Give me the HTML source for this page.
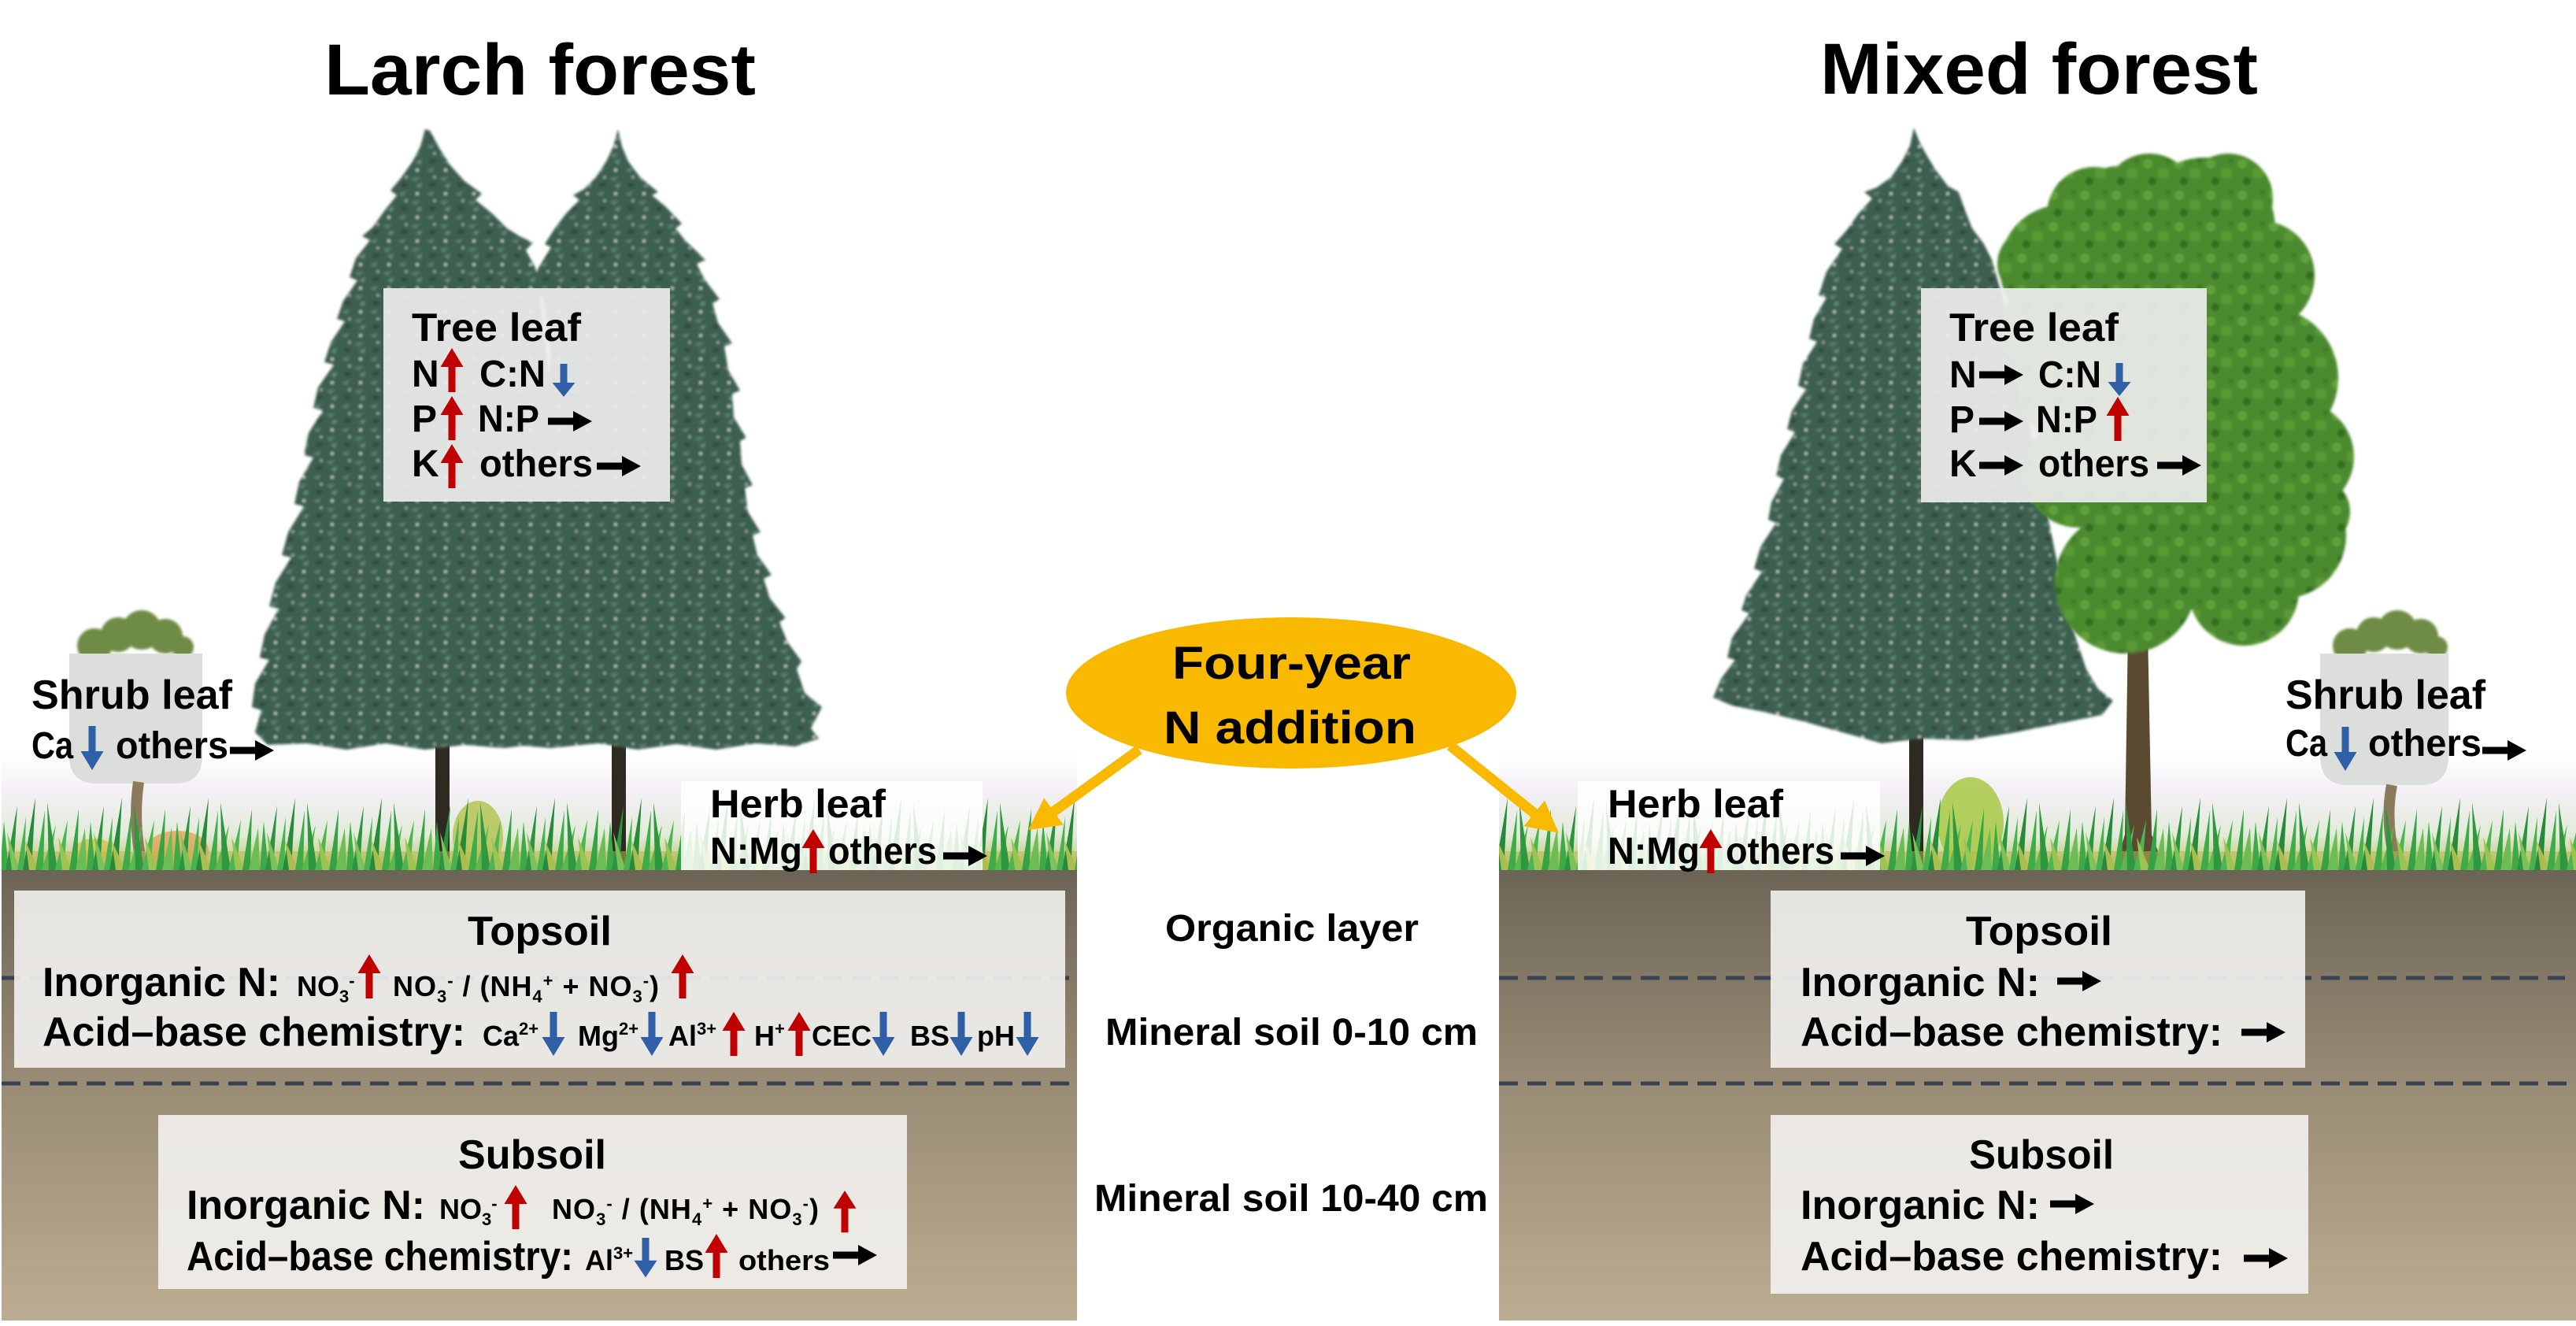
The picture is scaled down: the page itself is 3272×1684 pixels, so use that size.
<!DOCTYPE html>
<html><head><meta charset="utf-8"><style>html,body{margin:0;padding:0;background:#fff}svg{display:block}</style></head>
<body>
<svg xmlns="http://www.w3.org/2000/svg" xmlns:xlink="http://www.w3.org/1999/xlink" width="3272" height="1684" viewBox="0 0 3272 1684" font-family="'Liberation Sans', Arial, sans-serif" font-weight="bold">
<defs>
 <filter id="soft" x="-5%" y="-5%" width="110%" height="110%"><feGaussianBlur stdDeviation="1.6"/></filter>
 <linearGradient id="soil" x1="0" y1="1105" x2="0" y2="1680" gradientUnits="userSpaceOnUse">
  <stop offset="0" stop-color="#6b6353"/>
  <stop offset="0.05" stop-color="#72695a"/>
  <stop offset="0.5" stop-color="#9b8e77"/>
  <stop offset="1" stop-color="#bcad92"/>
 </linearGradient>
 <linearGradient id="haze" x1="0" y1="955" x2="0" y2="1105" gradientUnits="userSpaceOnUse">
  <stop offset="0" stop-color="#ffffff"/>
  <stop offset="0.35" stop-color="#f3eff5"/>
  <stop offset="0.7" stop-color="#e2ebda"/>
  <stop offset="1" stop-color="#b9c46a"/>
 </linearGradient>
 <pattern id="grass" x="0" y="985" width="110" height="120" patternUnits="userSpaceOnUse">
  <rect y="96" width="110" height="24" fill="#b9b850" opacity="0.55"/>
  <polygon points="0,120 5,58 11,120" fill="#3daa48"/>
  <polygon points="7,120 22,38 17,120" fill="#2c9340"/>
  <polygon points="15,120 9,72 25,120" fill="#7cc25a"/>
  <polygon points="22,120 33,52 31,120" fill="#48b24f"/>
  <polygon points="29,120 45,28 40,120" fill="#27893a"/>
  <polygon points="37,120 32,82 49,120" fill="#a9be4e"/>
  <polygon points="45,120 57,44 55,120" fill="#3cab48"/>
  <polygon points="53,120 71,62 63,120" fill="#5cb84d"/>
  <polygon points="62,120 60,34 73,120" fill="#2e973f"/>
  <polygon points="70,120 86,56 81,120" fill="#4db553"/>
  <polygon points="79,120 74,78 91,120" fill="#9cc453"/>
  <polygon points="88,120 100,42 98,120" fill="#35a244"/>
  <polygon points="96,120 108,66 110,120" fill="#6cbd56"/>
 </pattern>
 <pattern id="con" width="36" height="30" patternUnits="userSpaceOnUse">
  <rect width="36" height="30" fill="#3e5e50"/>
  <path d="M2,6 l10,-3 l-4,6z" fill="#618574"/>
  <path d="M18,16 l12,-2 l-6,7z" fill="#5a7d6d"/>
  <path d="M6,22 l9,2 l-8,4z" fill="#2a4437"/>
  <circle cx="26" cy="6" r="1.8" fill="#d9e0dc"/>
  <circle cx="12" cy="15" r="1.4" fill="#c8d2cc"/>
  <path d="M24,26 l8,-4 l-2,7z" fill="#6a8e7c"/>
 </pattern>
 <pattern id="leafy" width="40" height="40" patternUnits="userSpaceOnUse">
  <rect width="40" height="40" fill="#4c8a2e"/>
  <circle cx="8" cy="8" r="6" fill="#62a33a"/>
  <circle cx="28" cy="20" r="7" fill="#5a9a35"/>
  <circle cx="14" cy="30" r="5" fill="#336d22"/>
  <circle cx="34" cy="4" r="3" fill="#3a7726"/>
 </pattern>
 <path id="up" d="M-4.5,56 L-4.5,24 L-14.5,24 L0,0 L14.5,24 L4.5,24 L4.5,56 Z"/>
 <path id="dn" d="M-4.5,0 L4.5,0 L4.5,32 L14.5,32 L0,56 L-14.5,32 L-4.5,32 Z"/>
 <path id="rt" d="M0,-4.5 L32,-4.5 L32,-13 L56,0 L32,13 L32,4.5 L0,4.5 Z"/>
</defs>

<rect width="3272" height="1684" fill="#fff"/>

<!-- haze bands -->
<rect x="2" y="955" width="1366" height="150" fill="url(#haze)"/>
<rect x="1904" y="955" width="1368" height="150" fill="url(#haze)"/>

<!-- Titles -->
<text x="412" y="120" font-size="92" textLength="548" lengthAdjust="spacingAndGlyphs">Larch forest</text>
<text x="2312" y="119" font-size="92" textLength="556" lengthAdjust="spacingAndGlyphs">Mixed forest</text>

<!-- Left trees -->
<rect x="777" y="900" width="18" height="205" fill="#2e2a22"/>
<rect x="553" y="900" width="18" height="205" fill="#2e2a22"/>
<g filter="url(#soft)">
<polygon fill="url(#con)" points="785,164 779,186 770,205 757,225 742,240 728,248 736,254 720,270 706,288 692,310 700,314 684,340 676,360 690,380 700,450 690,550 680,650 670,750 660,850 650,946 700,950 760,944 810,952 860,945 910,952 960,944 1010,948 1040,938 1030,925 1044,898 1022,880 1012,850 1018,840 1000,815 990,790 998,785 978,760 970,735 980,730 962,705 956,680 966,676 950,650 946,620 956,616 942,590 940,560 948,556 932,530 930,500 940,496 925,470 920,440 930,436 912,410 905,385 914,380 895,355 885,335 896,330 870,305 858,290 866,284 845,262 828,248 836,244 813,225 798,205 790,186"/>
<polygon fill="url(#con)" points="540,164 534,186 524,205 510,225 496,242 504,248 488,268 474,288 460,300 470,305 452,328 444,352 454,356 436,382 428,405 438,408 420,435 412,460 424,463 404,492 398,518 410,521 392,550 386,578 398,581 380,612 374,640 386,643 366,676 358,705 370,708 350,740 342,770 354,773 336,806 330,835 342,838 324,868 320,898 332,902 324,930 340,946 390,944 440,952 490,944 540,952 590,946 640,950 690,944 720,900 730,800 720,700 710,600 700,500 690,420 684,360 680,340 668,318 677,308 660,300 644,290 626,272 604,254 612,246 590,230 572,210 558,188 546,166"/>
</g>

<!-- Right trees -->
<rect x="2425" y="900" width="18" height="205" fill="#2e2a22"/>
<polygon filter="url(#soft)" fill="url(#con)" points="2431,162 2426,185 2416,205 2402,225 2384,238 2368,244 2378,252 2360,272 2346,292 2330,310 2340,316 2320,345 2310,375 2320,378 2304,405 2298,430 2308,434 2290,462 2284,490 2294,494 2276,522 2270,545 2280,549 2262,578 2256,605 2266,608 2250,638 2246,660 2256,664 2236,695 2228,722 2238,726 2218,756 2212,775 2222,779 2200,810 2194,835 2204,838 2186,862 2176,886 2200,896 2240,904 2290,916 2340,930 2390,944 2440,938 2500,940 2560,930 2620,918 2670,908 2684,890 2665,875 2650,850 2640,820 2630,790 2610,700 2590,600 2570,500 2550,400 2530,330 2520,310 2505,290 2494,262 2488,244 2474,236 2458,215 2446,195 2438,180"/>
<polygon fill="#5b4a32" points="2703,800 2728,800 2733,1060 2750,1105 2686,1105 2699,1060"/>
<g fill="url(#leafy)" filter="url(#soft)">
 <circle cx="2700" cy="310" r="100"/>
 <circle cx="2800" cy="290" r="90"/>
 <circle cx="2620" cy="340" r="80"/>
 <circle cx="2870" cy="350" r="70"/>
 <circle cx="2760" cy="420" r="130"/>
 <circle cx="2880" cy="480" r="90"/>
 <circle cx="2920" cy="580" r="70"/>
 <circle cx="2650" cy="480" r="90"/>
 <circle cx="2640" cy="600" r="70"/>
 <circle cx="2760" cy="600" r="130"/>
 <circle cx="2900" cy="680" r="80"/>
 <circle cx="2850" cy="750" r="70"/>
 <circle cx="2700" cy="740" r="90"/>
 <circle cx="2650" cy="740" r="40"/>
 <circle cx="2940" cy="650" r="45"/>
 <circle cx="2600" cy="420" r="60"/>
 <circle cx="2582" cy="335" r="45"/>
 <circle cx="2830" cy="252" r="57"/>
 <circle cx="2730" cy="255" r="60"/>
 <circle cx="2660" cy="272" r="60"/>
</g>

<!-- bushes -->
<ellipse cx="607" cy="1062" rx="32" ry="45" fill="#b4c455" opacity="0.85"/>
<ellipse cx="2503" cy="1045" rx="42" ry="58" fill="#a8c944" opacity="0.85"/>
<ellipse cx="225" cy="1080" rx="40" ry="25" fill="#e39a45" opacity="0.7"/>
<ellipse cx="120" cy="1085" rx="28" ry="20" fill="#d6c148" opacity="0.8"/>

<!-- shrubs -->
<g fill="#6e8c45" filter="url(#soft)">
 <circle cx="120" cy="820" r="22"/><circle cx="150" cy="806" r="22"/><circle cx="180" cy="800" r="25"/><circle cx="210" cy="808" r="22"/><circle cx="232" cy="822" r="14"/>
 <circle cx="2985" cy="820" r="22"/><circle cx="3015" cy="806" r="22"/><circle cx="3045" cy="800" r="25"/><circle cx="3075" cy="808" r="22"/><circle cx="3095" cy="822" r="14"/>
</g>
<path d="M88,830 H257 V960 Q257,995 222,995 H123 Q88,995 88,960 Z" fill="#dcdedb"/>
<path d="M2947,830 H3110 V960 Q3110,997 3075,997 H2982 Q2947,997 2947,960 Z" fill="#dcdedb"/>
<path d="M176,993 Q168,1050 182,1105" stroke="#8b7b5c" stroke-width="14" fill="none"/>
<path d="M3038,997 Q3028,1050 3046,1105" stroke="#8b7b5c" stroke-width="14" fill="none"/>

<!-- grass -->
<rect x="2" y="985" width="1366" height="120" fill="url(#grass)"/>
<rect x="1904" y="985" width="1368" height="120" fill="url(#grass)"/>

<!-- herb boxes -->
<rect x="865" y="992" width="383" height="113" fill="#fff" opacity="0.84"/>
<rect x="2004" y="992" width="384" height="113" fill="#fff" opacity="0.84"/>

<!-- soil panels -->
<rect x="2" y="1105" width="1366" height="572" fill="url(#soil)"/>
<rect x="1904" y="1105" width="1368" height="572" fill="url(#soil)"/>
<g stroke="#384250" stroke-width="5" stroke-dasharray="24 12" fill="none">
 <line x1="2" y1="1242" x2="1368" y2="1242"/>
 <line x1="1904" y1="1242" x2="3258" y2="1242"/>
 <line x1="2" y1="1376" x2="1362" y2="1376"/>
 <line x1="1904" y1="1376" x2="3262" y2="1376"/>
</g>
<g fill="#f3f2ef" opacity="0.9">
 <rect x="18" y="1131" width="1335" height="225"/>
 <rect x="201" y="1416" width="951" height="221"/>
 <rect x="2249" y="1131" width="679" height="225"/>
 <rect x="2249" y="1416" width="683" height="227"/>
</g>

<!-- tree leaf boxes -->
<rect x="487" y="366" width="364" height="271" fill="#ececec" opacity="0.93"/>
<rect x="2440" y="366" width="363" height="272" fill="#ececec" opacity="0.93"/>

<!-- Ellipse + arrows -->
<ellipse cx="1640" cy="880" rx="286" ry="96" fill="#f8b900"/>
<path d="M0,-6.5 L134,-6.5 L134,-21 L174,0 L134,21 L134,6.5 L0,6.5 Z" fill="#f8b900" transform="translate(1447,952) rotate(144.1)"/>
<path d="M0,-6.5 L137,-6.5 L137,-21 L177,0 L137,21 L137,6.5 L0,6.5 Z" fill="#f8b900" transform="translate(1842,947) rotate(38.8)"/>
<text x="1489" y="862" font-size="58" textLength="303" lengthAdjust="spacingAndGlyphs">Four-year</text>
<text x="1478" y="944" font-size="58" textLength="321" lengthAdjust="spacingAndGlyphs">N addition</text>

<!-- center labels -->
<text x="1480" y="1195" font-size="48" textLength="322" lengthAdjust="spacingAndGlyphs">Organic layer</text>
<text x="1404" y="1327" font-size="48" textLength="473" lengthAdjust="spacingAndGlyphs">Mineral soil 0-10 cm</text>
<text x="1390" y="1538" font-size="48" textLength="500" lengthAdjust="spacingAndGlyphs">Mineral soil 10-40 cm</text>

<!-- Left tree leaf -->
<text x="523" y="433" font-size="50" textLength="215" lengthAdjust="spacingAndGlyphs">Tree leaf</text>
<text x="523" y="491" font-size="48">N</text>
<text x="609" y="491" font-size="48" textLength="84" lengthAdjust="spacingAndGlyphs">C:N</text>
<text x="523" y="548" font-size="48">P</text>
<text x="607" y="548" font-size="48" textLength="78" lengthAdjust="spacingAndGlyphs">N:P</text>
<text x="523" y="605" font-size="48">K</text>
<text x="609" y="605" font-size="48" textLength="144" lengthAdjust="spacingAndGlyphs">others</text>
<g fill="#c00000">
 <use xlink:href="#up" transform="translate(574,442)"/>
 <use xlink:href="#up" transform="translate(574,503)"/>
 <use xlink:href="#up" transform="translate(574,564)"/>
</g>
<use xlink:href="#dn" fill="#2e5fa7" transform="translate(716,462) scale(1,0.75)"/>
<use xlink:href="#rt" transform="translate(696,535)"/>
<use xlink:href="#rt" transform="translate(758,592)"/>

<!-- Right tree leaf -->
<text x="2476" y="433" font-size="50" textLength="215" lengthAdjust="spacingAndGlyphs">Tree leaf</text>
<text x="2476" y="492" font-size="48">N</text>
<text x="2589" y="492" font-size="48" textLength="80" lengthAdjust="spacingAndGlyphs">C:N</text>
<text x="2476" y="549" font-size="48">P</text>
<text x="2586" y="549" font-size="48" textLength="78" lengthAdjust="spacingAndGlyphs">N:P</text>
<text x="2476" y="605" font-size="48">K</text>
<text x="2589" y="605" font-size="48" textLength="141" lengthAdjust="spacingAndGlyphs">others</text>
<use xlink:href="#rt" transform="translate(2514,476)"/>
<use xlink:href="#rt" transform="translate(2514,535)"/>
<use xlink:href="#rt" transform="translate(2514,591)"/>
<use xlink:href="#rt" transform="translate(2740,591)"/>
<use xlink:href="#dn" fill="#2e5fa7" transform="translate(2692,461) scale(1,0.75)"/>
<use xlink:href="#up" fill="#c00000" transform="translate(2690,504)"/>

<!-- Shrub leaf -->
<text x="40" y="900" font-size="52" textLength="255" lengthAdjust="spacingAndGlyphs">Shrub leaf</text>
<text x="40" y="963" font-size="48" textLength="53" lengthAdjust="spacingAndGlyphs">Ca</text>
<text x="147" y="963" font-size="48" textLength="143" lengthAdjust="spacingAndGlyphs">others</text>
<use xlink:href="#dn" fill="#2e5fa7" transform="translate(117,922)"/>
<use xlink:href="#rt" transform="translate(292,953)"/>
<text x="2903" y="900" font-size="52" textLength="254" lengthAdjust="spacingAndGlyphs">Shrub leaf</text>
<text x="2903" y="960" font-size="48" textLength="53" lengthAdjust="spacingAndGlyphs">Ca</text>
<text x="3008" y="960" font-size="48" textLength="144" lengthAdjust="spacingAndGlyphs">others</text>
<use xlink:href="#dn" fill="#2e5fa7" transform="translate(2979,923)"/>
<use xlink:href="#rt" transform="translate(3153,953)"/>

<!-- Herb leaf -->
<text x="902" y="1038" font-size="50" textLength="223" lengthAdjust="spacingAndGlyphs">Herb leaf</text>
<text x="902" y="1097" font-size="48" textLength="117" lengthAdjust="spacingAndGlyphs">N:Mg</text>
<text x="1052" y="1097" font-size="48" textLength="138" lengthAdjust="spacingAndGlyphs">others</text>
<use xlink:href="#up" fill="#c00000" transform="translate(1033,1053)"/>
<use xlink:href="#rt" transform="translate(1198,1087)"/>
<text x="2042" y="1038" font-size="50" textLength="223" lengthAdjust="spacingAndGlyphs">Herb leaf</text>
<text x="2042" y="1097" font-size="48" textLength="117" lengthAdjust="spacingAndGlyphs">N:Mg</text>
<text x="2192" y="1097" font-size="48" textLength="138" lengthAdjust="spacingAndGlyphs">others</text>
<use xlink:href="#up" fill="#c00000" transform="translate(2173,1053)"/>
<use xlink:href="#rt" transform="translate(2338,1087)"/>

<!-- Left topsoil -->
<text x="594" y="1200" font-size="52" textLength="183" lengthAdjust="spacingAndGlyphs">Topsoil</text>
<text x="54" y="1265" font-size="52" textLength="302" lengthAdjust="spacingAndGlyphs">Inorganic N:</text>
<text x="377" y="1265" font-size="36">NO<tspan dy="8" font-size="22">3</tspan><tspan dy="-20" font-size="22">-</tspan></text>
<text x="499" y="1265" font-size="36" textLength="338" lengthAdjust="spacing">NO<tspan dy="8" font-size="22">3</tspan><tspan dy="-20" font-size="22">-</tspan><tspan dy="12"> / (NH</tspan><tspan dy="8" font-size="22">4</tspan><tspan dy="-20" font-size="22">+</tspan><tspan dy="12"> + NO</tspan><tspan dy="8" font-size="22">3</tspan><tspan dy="-20" font-size="22">-</tspan><tspan dy="12">)</tspan></text>
<text x="54" y="1328" font-size="52" textLength="537" lengthAdjust="spacingAndGlyphs">Acid–base chemistry:</text>
<text x="613" y="1328" font-size="36">Ca<tspan dy="-14" font-size="22">2+</tspan></text>
<text x="734" y="1328" font-size="36">Mg<tspan dy="-14" font-size="22">2+</tspan></text>
<text x="849" y="1328" font-size="36">Al<tspan dy="-14" font-size="22">3+</tspan></text>
<text x="958" y="1328" font-size="36">H<tspan dy="-14" font-size="22">+</tspan></text>
<text x="1031" y="1328" font-size="36">CEC</text>
<text x="1156" y="1328" font-size="36">BS</text>
<text x="1241" y="1328" font-size="36">pH</text>
<g fill="#c00000">
 <use xlink:href="#up" transform="translate(469,1212)"/>
 <use xlink:href="#up" transform="translate(867,1212)"/>
 <use xlink:href="#up" transform="translate(932,1285)"/>
 <use xlink:href="#up" transform="translate(1015,1285)"/>
</g>
<g fill="#2e5fa7">
 <use xlink:href="#dn" transform="translate(703,1285)"/>
 <use xlink:href="#dn" transform="translate(828,1285)"/>
 <use xlink:href="#dn" transform="translate(1122,1285)"/>
 <use xlink:href="#dn" transform="translate(1221,1285)"/>
 <use xlink:href="#dn" transform="translate(1305,1285)"/>
</g>

<!-- Left subsoil -->
<text x="582" y="1484" font-size="52" textLength="188" lengthAdjust="spacingAndGlyphs">Subsoil</text>
<text x="237" y="1548" font-size="52" textLength="303" lengthAdjust="spacingAndGlyphs">Inorganic N:</text>
<text x="558" y="1548" font-size="36">NO<tspan dy="8" font-size="22">3</tspan><tspan dy="-20" font-size="22">-</tspan></text>
<text x="701" y="1548" font-size="36" textLength="339" lengthAdjust="spacing">NO<tspan dy="8" font-size="22">3</tspan><tspan dy="-20" font-size="22">-</tspan><tspan dy="12"> / (NH</tspan><tspan dy="8" font-size="22">4</tspan><tspan dy="-20" font-size="22">+</tspan><tspan dy="12"> + NO</tspan><tspan dy="8" font-size="22">3</tspan><tspan dy="-20" font-size="22">-</tspan><tspan dy="12">)</tspan></text>
<text x="237" y="1613" font-size="52" textLength="491" lengthAdjust="spacingAndGlyphs">Acid–base chemistry:</text>
<text x="743" y="1613" font-size="36">Al<tspan dy="-14" font-size="22">3+</tspan></text>
<text x="844" y="1613" font-size="36">BS</text>
<text x="938" y="1613" font-size="36" textLength="116" lengthAdjust="spacingAndGlyphs">others</text>
<use xlink:href="#up" fill="#c00000" transform="translate(655,1505)"/>
<use xlink:href="#up" fill="#c00000" transform="translate(1073,1512) scale(1,0.95)"/>
<use xlink:href="#dn" fill="#2e5fa7" transform="translate(820,1572) scale(1,0.9)"/>
<use xlink:href="#up" fill="#c00000" transform="translate(910,1567)"/>
<use xlink:href="#rt" transform="translate(1058,1594)"/>

<!-- Right topsoil -->
<text x="2497" y="1200" font-size="52" textLength="186" lengthAdjust="spacingAndGlyphs">Topsoil</text>
<text x="2287" y="1265" font-size="52" textLength="304" lengthAdjust="spacingAndGlyphs">Inorganic N:</text>
<use xlink:href="#rt" transform="translate(2613,1246)"/>
<text x="2287" y="1328" font-size="52" textLength="536" lengthAdjust="spacingAndGlyphs">Acid–base chemistry:</text>
<use xlink:href="#rt" transform="translate(2847,1311)"/>

<!-- Right subsoil -->
<text x="2501" y="1484" font-size="52" textLength="184" lengthAdjust="spacingAndGlyphs">Subsoil</text>
<text x="2287" y="1548" font-size="52" textLength="304" lengthAdjust="spacingAndGlyphs">Inorganic N:</text>
<use xlink:href="#rt" transform="translate(2604,1529)"/>
<text x="2287" y="1613" font-size="52" textLength="536" lengthAdjust="spacingAndGlyphs">Acid–base chemistry:</text>
<use xlink:href="#rt" transform="translate(2850,1598)"/>
</svg>
</body></html>
